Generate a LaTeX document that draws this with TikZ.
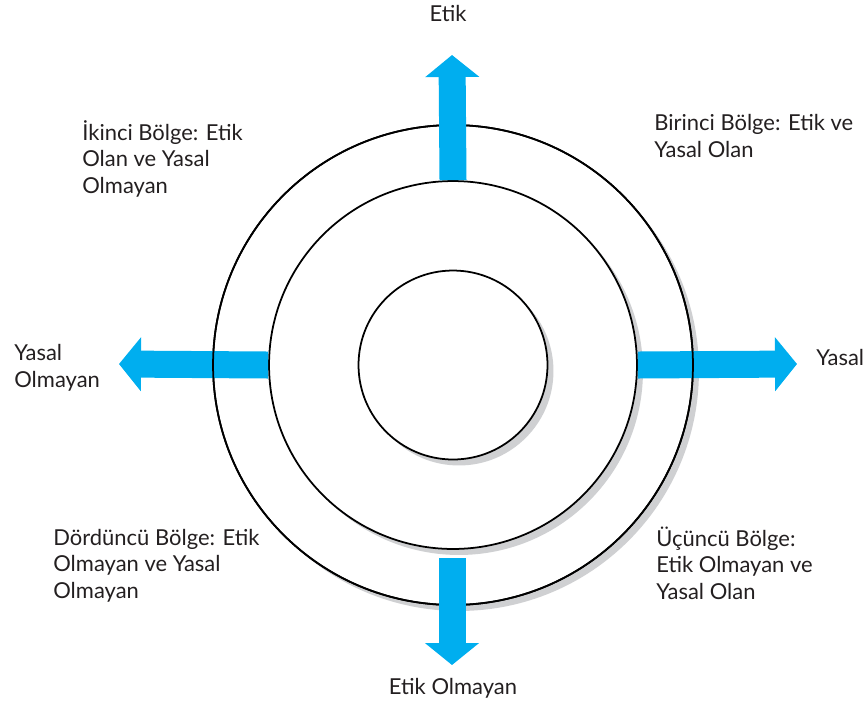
\documentclass[tikz,border=0pt]{standalone}
\usepackage{fontspec}
\setmainfont{Lato}
\usepackage{xcolor}
\usepackage{tikz}
\usetikzlibrary{arrows.meta,positioning,calc}

\definecolor{arrowblue}{HTML}{00AEEF}
\definecolor{shadowgray}{HTML}{CFD0D2}
\definecolor{textgray}{HTML}{231F20}

\begin{document}
\begin{tikzpicture}[x=0.02cm, y=-0.02cm,
  ring/.style={draw, circle, fill=white, line width=1pt, inner sep=0pt},
  ringshadow/.style={fill=shadowgray},
  blockarrow/.style={arrowblue, line width=0.54cm,
    -{Triangle[length=0.44cm, width=1.06cm]}},
  label/.style={text=textgray, inner sep=0pt, align=left,
    font=\fontsize{12.5}{15}\selectfont}]
\useasboundingbox (0,0) rectangle (868,701);
% three circles, each with its grey shadow
\fill[ringshadow] (459,371) circle[radius=4.8cm];
\node[ring, minimum size=9.6cm] (outer) at (453,365) {};
\fill[ringshadow] (459,371) circle[radius=3.68cm];
\node[ring, minimum size=7.36cm] (middle) at (453,365) {};
\fill[ringshadow] (459,371) circle[radius=1.89cm];
\node[ring, minimum size=3.78cm] (inner) at (453,365) {};
% arrow tips
\coordinate (tipN) at (452,55);
\coordinate (tipS) at (452,665);
\coordinate (tipE) at (797,364);
\coordinate (tipW) at (119,364);
\coordinate (startS) at (452,558);
\draw[blockarrow] (middle.east) -- (tipE);
\draw[blockarrow] (middle.west) -- (tipW);
\draw[line width=1pt] (outer.center) circle[radius=4.8cm];
\draw[blockarrow] (middle.north) -- (tipN);
\draw[blockarrow] (startS) -- (tipS);
% axis labels
\node[label, anchor=base] (etik) at (448,21) {Etik};
\node[label, anchor=base] (etikOlmayan) at (453,694) {Etik Olmayan};
\node[label, anchor=base west] (yasal) at (816,365) {Yasal};
\node[label, anchor=base west] (yasalOlmayan) at (14,387) {Yasal\\Olmayan};
% zones (anchor on the last line)
\node[label, anchor=base west] (bolgeBir) at (654,157) {Birinci Bölge: Etik ve\\Yasal Olan};
\node[label, anchor=base west] (bolgeIki) at (82,193) {İkinci Bölge: Etik\\Olan ve Yasal\\Olmayan};
\node[label, anchor=base west] (bolgeUc) at (656,599) {Üçüncü Bölge:\\Etik Olmayan ve\\Yasal Olan};
\node[label, anchor=base west] (bolgeDort) at (53,598) {Dördüncü Bölge: Etik\\Olmayan ve Yasal\\Olmayan};
\end{tikzpicture}
\end{document}
